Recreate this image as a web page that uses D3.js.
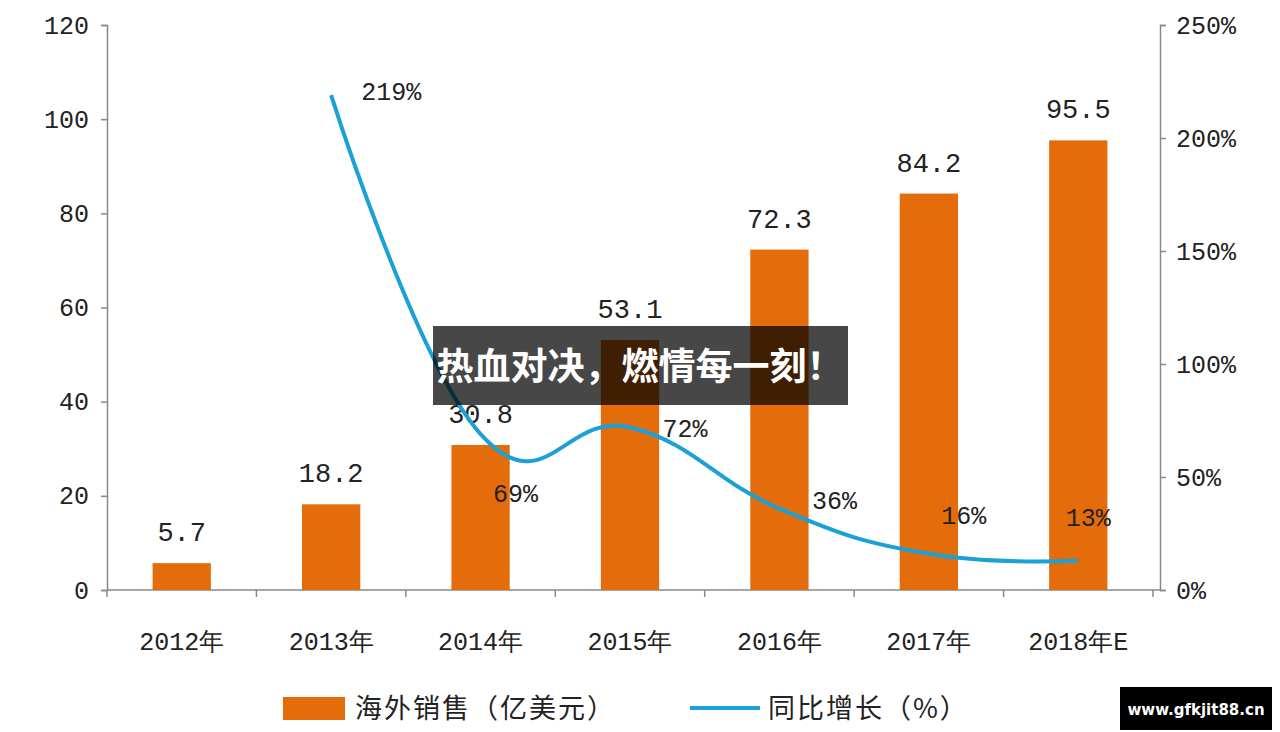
<!DOCTYPE html>
<html><head><meta charset="utf-8">
<script src="https://cdn.jsdelivr.net/npm/d3@7/dist/d3.min.js"></script>
<style>body{margin:0;background:#fff}svg{display:block}</style>
</head><body>
<svg id="c" width="1280" height="732"></svg>
<script>
const categories = ["2012年","2013年","2014年","2015年","2016年","2017年","2018年E"];
const sales = [5.7,18.2,30.8,53.1,72.3,84.2,95.5];
const growthCats = ["2013年","2014年","2015年","2016年","2017年","2018年E"];
const growth = [219,69,72,36,16,13];
const leftTicks = [0,20,40,60,80,100,120];
const rightTicks = [0,50,100,150,200,250];

const svg = d3.select("#c");
const font = "'Liberation Mono','DejaVu Sans Mono',monospace";
const x = d3.scaleBand().domain(categories).range([107,1153]).paddingInner(0.61).paddingOuter(0.305);
const y = d3.scaleLinear().domain([0,120]).range([590,25]);
const y2 = d3.scaleLinear().domain([0,250]).range([590,25]);

const gl = svg.append("g").attr("transform","translate(107,0)")
  .call(d3.axisLeft(y).tickValues(leftTicks).tickSize(6).tickPadding(12));
const gr = svg.append("g").attr("transform","translate(1160,0)")
  .call(d3.axisRight(y2).tickValues(rightTicks).tickSize(6).tickPadding(10).tickFormat(d=>d+"%"));
[gl,gr].forEach(g=>{g.selectAll("text").attr("font-family",font).attr("font-size",25).attr("fill","#222");
  g.selectAll("path,line").attr("stroke","#888").attr("stroke-width",1.5);});
svg.append("line").attr("x1",107).attr("x2",1160).attr("y1",590).attr("y2",590).attr("stroke","#888").attr("stroke-width",1.5);
const step = x.step();
d3.range(categories.length+1).forEach(i=>{
  const xx = 107 + i*step;
  svg.append("line").attr("x1",xx).attr("x2",xx).attr("y1",590).attr("y2",597).attr("stroke","#888").attr("stroke-width",1.5);
});
svg.selectAll(".xl").data(categories).join("text")
  .attr("x",d=>x(d)+x.bandwidth()/2).attr("y",650).attr("text-anchor","middle")
  .attr("font-family",font).attr("font-size",25).attr("fill","#222").text(d=>d);

svg.selectAll(".bar").data(sales).join("rect")
  .attr("x",(d,i)=>x(categories[i])).attr("width",x.bandwidth())
  .attr("y",d=>y(d)).attr("height",d=>590-y(d)).attr("fill","#e46c0a");
svg.selectAll(".bl").data(sales).join("text")
  .attr("x",(d,i)=>x(categories[i])+x.bandwidth()/2).attr("y",d=>y(d)-22)
  .attr("text-anchor","middle").attr("font-family",font).attr("font-size",27).attr("fill","#222")
  .text(d=>d.toFixed(1));

const cx = c=>x(c)+x.bandwidth()/2;
const line = d3.line().x((d,i)=>cx(growthCats[i])).y(d=>y2(d)).curve(d3.curveCardinal.tension(-0.3));
svg.append("path").datum(growth).attr("d",line).attr("fill","none").attr("stroke","#1ba1d6").attr("stroke-width",4);
const lblOff = [[60,5],[35,68],[55,10],[55,0],[35,-30],[10,-35]];
svg.selectAll(".gl").data(growth).join("text")
  .attr("x",(d,i)=>cx(growthCats[i])+lblOff[i][0]).attr("y",(d,i)=>y2(d)+lblOff[i][1])
  .attr("text-anchor","middle").attr("font-family",font).attr("font-size",25).attr("fill","#222")
  .text(d=>d+"%");

svg.append("rect").attr("x",283).attr("y",697).attr("width",62).attr("height",23).attr("fill","#e46c0a");
svg.append("text").attr("x",355).attr("y",718).attr("font-family","'Noto Sans CJK SC'").attr("font-size",27).attr("letter-spacing",2).attr("fill","#222").text("海外销售（亿美元）");
svg.append("line").attr("x1",690).attr("x2",760).attr("y1",708).attr("y2",708).attr("stroke","#1ba1d6").attr("stroke-width",4);
svg.append("text").attr("x",768).attr("y",718).attr("font-family","'Noto Sans CJK SC'").attr("font-size",27).attr("letter-spacing",2).attr("fill","#222").text("同比增长（%）");

svg.append("rect").attr("x",433).attr("y",326).attr("width",415).attr("height",79).attr("fill","#000").attr("opacity",0.72);
svg.append("text").attr("x",640).attr("y",380).attr("text-anchor","middle").attr("font-family","'Noto Sans CJK SC'").attr("font-weight","bold").attr("font-size",37).attr("fill","#fff").text("热血对决，燃情每一刻！");
svg.append("rect").attr("x",1120).attr("y",687).attr("width",152).attr("height",43).attr("fill","#000");
svg.append("text").attr("x",1196).attr("y",715).attr("text-anchor","middle").attr("font-family","'DejaVu Sans'").attr("font-weight","bold").attr("font-size",15).attr("fill","#fff").text("www.gfkjit88.cn");
</script>
</body></html>
